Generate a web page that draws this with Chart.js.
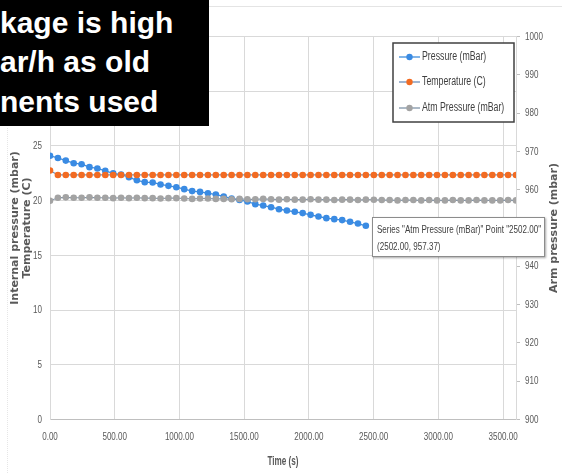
<!DOCTYPE html>
<html>
<head>
<meta charset="utf-8">
<script src="https://cdn.jsdelivr.net/npm/chart.js@4.4.1/dist/chart.umd.min.js"></script>
<style>
  html, body { margin: 0; padding: 0; background: #fff; }
  #wrap { position: relative; width: 562px; height: 473px; overflow: hidden; background: #fff; }
  #chart { position: absolute; left: 0; top: 0; }
  .topline { position: absolute; left: 209px; top: 6px; width: 353px; height: 1px; background: #e4e4e4; }
  .edge { position: absolute; left: 7px; top: 128px; width: 0; height: 345px; border-left: 1px dotted #e6e6e6; }
  .note {
    position: absolute; left: 0; top: 0; width: 209px; height: 126px;
    background: #000; color: #fff; box-sizing: border-box; padding-top: 3px;
    font: bold 30px "Liberation Sans", Arial, sans-serif; line-height: 39.3px;
    white-space: nowrap; overflow: hidden;
  }
  .tip {
    position: absolute; left: 372px; top: 217px; width: 173px; height: 40px;
    box-sizing: border-box; padding: 3px 0 0 4px;
    background: #fff; border: 1px solid #8c8c8c; box-shadow: 1px 1px 2px rgba(0,0,0,0.35);
    font: 11.5px "Liberation Sans", Arial, sans-serif; color: #404040;
    line-height: 17px; white-space: nowrap;
  }
  .tip span { display: block; transform: scaleX(0.7); transform-origin: 0 0; }
</style>
</head>
<body>
<div id="wrap">
  <canvas id="chart" width="562" height="473"></canvas>
  <div class="topline"></div>
  <div class="edge"></div>
  <div class="note">kage is high<br>ar/h as old<br>nents used</div>
  <div class="tip" id="tip"></div>
</div>
<script>
// ── Data ──────────────────────────────────────────────────────────────
const timeS = [0, 61, 122, 183, 244, 305, 366, 427, 488, 549, 610, 671, 732, 793, 854, 915, 976, 1037, 1098, 1159,
  1220, 1281, 1342, 1403, 1464, 1525, 1586, 1647, 1708, 1769, 1830, 1891, 1952, 2013, 2074, 2135, 2196, 2257, 2318, 2379,
  2440, 2502, 2563, 2624, 2685, 2746, 2807, 2868, 2929, 2990, 3051, 3112, 3173, 3234, 3295, 3356, 3417, 3478, 3539, 3600];

const pressure = [24.1, 23.9, 23.66, 23.42, 23.33, 23.06, 22.94, 22.72, 22.5, 22.38, 22.14, 21.86, 21.69, 21.66, 21.48,
  21.35, 21.23, 21.05, 20.87, 20.8, 20.68, 20.56, 20.38, 20.19, 20.07, 19.92, 19.68, 19.55, 19.4, 19.22, 19.1, 18.98,
  18.86, 18.7, 18.55, 18.4, 18.31, 18.22, 18.07, 17.91, 17.7];

const temperature = [22.75, 22.35, 22.35, 22.35, 22.35, 22.35, 22.35, 22.35, 22.35, 22.35, 22.35, 22.35, 22.35, 22.35, 22.35,
  22.35, 22.35, 22.35, 22.35, 22.35, 22.35, 22.35, 22.35, 22.35, 22.35, 22.35, 22.35, 22.35, 22.35, 22.35, 22.35, 22.35,
  22.35, 22.35, 22.35, 22.35, 22.35, 22.35, 22.35, 22.35, 22.35, 22.35, 22.35, 22.35, 22.35, 22.35, 22.35, 22.35, 22.35,
  22.35, 22.35, 22.35, 22.35, 22.35, 22.35, 22.35, 22.35, 22.35, 22.35, 22.35];

const atmPressure = [957.1, 957.9, 958.0, 957.9, 957.9, 958.0, 957.9, 957.9, 957.8, 957.9, 957.8, 957.9, 957.8, 957.8,
  957.7, 957.8, 957.8, 957.7, 957.6, 957.7, 957.7, 957.6, 957.6, 957.5, 957.6, 957.5, 957.5, 957.6, 957.5, 957.4, 957.5,
  957.4, 957.4, 957.5, 957.4, 957.4, 957.3, 957.4, 957.4, 957.3, 957.4, 957.37, 957.3, 957.3, 957.2, 957.3, 957.3, 957.2,
  957.3, 957.2, 957.2, 957.3, 957.2, 957.2, 957.3, 957.2, 957.2, 957.2, 957.3, 957.2];

const xTickValues = [0, 500, 1000, 1500, 2000, 2500, 3000, 3500];

const seriesNames = ['Pressure (mBar)', 'Temperature (C)', 'Atm Pressure (mBar)'];
const hoverIndex = 41;

const SANS = '"Liberation Sans", Arial, sans-serif';
const GREY_TXT = '#595959';

const toPoints = vals => vals.map((v, i) => ({ x: timeS[i], y: v }));

// hover box for the atm pressure point
document.getElementById('tip').innerHTML =
  `<span>Series "${seriesNames[2]}" Point "${timeS[hoverIndex].toFixed(2)}"</span>` +
  `<span>(${timeS[hoverIndex].toFixed(2)}, ${atmPressure[hoverIndex].toFixed(2)})</span>`;

// condensed text: regular face squeezed horizontally
function narrowText(ctx, text, x, y, align, font, squeeze, color) {
  ctx.save();
  ctx.translate(x, y);
  ctx.scale(squeeze, 1);
  ctx.font = font;
  ctx.fillStyle = color;
  ctx.textAlign = align;
  ctx.textBaseline = 'middle';
  ctx.fillText(text, 0, 0);
  ctx.restore();
}

// ── Tick labels, legend box, right axis title ────────────────────────
const overlayPlugin = {
  id: 'overlay',
  afterDraw(chart) {
    const ctx = chart.ctx;
    const { x, y, y1 } = chart.scales;
    const tickFont = '11.5px ' + SANS;

    x.ticks.forEach(t => {
      narrowText(ctx, t.value.toFixed(2), x.getPixelForValue(t.value), 437, 'center', tickFont, 0.7, GREY_TXT);
    });
    y.ticks.forEach(t => {
      narrowText(ctx, String(t.value), 42, y.getPixelForValue(t.value), 'right', tickFont, 0.7, GREY_TXT);
    });
    y1.ticks.forEach(t => {
      narrowText(ctx, String(t.value), 525, y1.getPixelForValue(t.value), 'left', tickFont, 0.7, GREY_TXT);
    });
    narrowText(ctx, 'Time (s)', (chart.chartArea.left + chart.chartArea.right) / 2, 462, 'center',
      'bold 12px ' + SANS, 0.68, GREY_TXT);

    ctx.save();
    // right axis title, reads bottom to top
    ctx.translate(554, 228);
    ctx.rotate(-Math.PI / 2);
    ctx.fillStyle = GREY_TXT;
    ctx.font = 'bold 11px "DejaVu Sans", sans-serif';
    ctx.textAlign = 'center';
    ctx.textBaseline = 'middle';
    ctx.fillText('Arm pressure (mbar)', 0, 0);
    ctx.restore();

    // legend
    ctx.save();
    ctx.fillStyle = '#fff';
    ctx.fillRect(393, 43, 121, 79);
    ctx.strokeStyle = '#404040';
    ctx.lineWidth = 1.5;
    ctx.strokeRect(393, 43, 121, 79);
    const rows = [57, 82, 108];
    chart.data.datasets.forEach((ds, i) => {
      const ry = rows[i];
      ctx.strokeStyle = ds.borderColor;
      ctx.lineWidth = 1.3;
      ctx.beginPath();
      ctx.moveTo(399, ry);
      ctx.lineTo(420, ry);
      ctx.stroke();
      ctx.fillStyle = ds.pointBackgroundColor;
      ctx.beginPath();
      ctx.arc(409.5, ry, 3.2, 0, Math.PI * 2);
      ctx.fill();
      narrowText(ctx, ds.label, 422, ry, 'left', '12px ' + SANS, 0.73, '#404040');
    });
    ctx.restore();
  }
};

// ── Chart ─────────────────────────────────────────────────────────────
new Chart(document.getElementById('chart').getContext('2d'), {
  type: 'line',
  data: {
    datasets: [
      {
        label: seriesNames[0], data: toPoints(pressure), yAxisID: 'y', order: 3,
        borderColor: '#3f8ddb', borderWidth: 1.3,
        pointBackgroundColor: '#3a8be3', pointBorderWidth: 0, pointRadius: 3.3
      },
      {
        label: seriesNames[1], data: toPoints(temperature), yAxisID: 'y', order: 2,
        borderColor: '#6d8fba', borderWidth: 1.2,
        pointBackgroundColor: '#f26b22', pointBorderWidth: 0, pointRadius: 3.3
      },
      {
        label: seriesNames[2], data: toPoints(atmPressure), yAxisID: 'y1', order: 1,
        borderColor: '#7f93a8', borderWidth: 1.2,
        pointBackgroundColor: '#a3a3a3', pointBorderWidth: 0, pointRadius: 3.3
      }
    ]
  },
  options: {
    animation: false,
    responsive: false,
    layout: { padding: { top: 36.5, left: 0, right: 0, bottom: 0 } },
    plugins: { legend: { display: false }, tooltip: { enabled: false } },
    scales: {
      x: {
        type: 'linear', min: 0, max: 3600,
        afterBuildTicks: s => { s.ticks = xTickValues.map(v => ({ value: v })); },
        ticks: { display: false },
        grid: { color: '#d9d9d9', drawTicks: false },
        border: { color: '#bfbfbf' },
        afterFit: s => { s.height = 53.5; }
      },
      y: {
        position: 'left', min: 0, max: 35,
        ticks: { stepSize: 5, display: false },
        grid: { color: '#d9d9d9', drawTicks: false },
        border: { color: '#d9d9d9' },
        title: {
          display: true, text: ['Internal pressure (mbar)', 'Temperature (C)'], color: GREY_TXT,
          font: { family: '"DejaVu Sans", sans-serif', size: 11, weight: 'bold', lineHeight: 1.1 },
          padding: { top: 9, bottom: 0 }
        },
        afterFit: s => { s.width = 50; }
      },
      y1: {
        position: 'right', min: 900, max: 1000,
        ticks: { stepSize: 10, display: false },
        grid: { drawOnChartArea: false, tickLength: 4, color: '#bfbfbf' },
        border: { color: '#d9d9d9' },
        afterFit: s => { s.width = 46; }
      }
    }
  },
  plugins: [overlayPlugin]
});
</script>
</body>
</html>
